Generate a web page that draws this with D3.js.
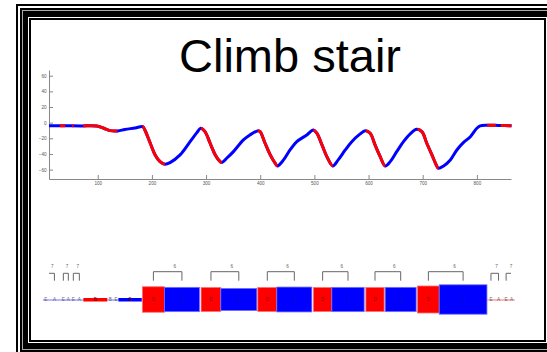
<!DOCTYPE html>
<html>
<head>
<meta charset="utf-8">
<script src="https://d3js.org/d3.v7.min.js"></script>
<style>
  body { margin: 0; background: #fff; }
  svg { display: block; }
  .axis text { font-family: "Liberation Sans", Arial, sans-serif; font-size: 4.6px; fill: #555; }
  .axis path, .axis line { stroke: #888; stroke-width: 1; }
</style>
</head>
<body>
<div id="chart"></div>
<script>
// signal keypoints (frame, angle)
const sigFrame = [10, 40, 70, 98, 110, 123, 137, 150, 169, 183,
  187, 197, 206, 215, 224, 233.5, 252, 270.5, 283, 290,
  298, 307.5, 317, 326, 329, 338, 350.5, 369, 381, 396.5,
  400, 409, 418.5, 427.5, 431.8, 443, 455, 467.5, 486, 498,
  504.5, 514, 523, 534, 544, 557, 569, 584.5, 593.7,
  603, 612, 621.5, 630.7, 640, 652, 664.5, 677, 689,
  698.5, 707.5, 717, 725, 729, 738.5, 751, 763, 775, 788, 800, 806, 818.5,
  840, 864]
const sigValue = [-3.8, -4, -4.2, -4.3, -6.8, -10.2, -10.6, -8.7, -6.8, -5.1,
  -9.3, -26.3, -41.2, -49.8, -53.1, -51, -41.2, -24.3, -12.8, -7.2,
  -11.5, -26.3, -41.2, -49.8, -51, -45.5, -37, -22, -15.7, -10.2,
  -11.5, -26.3, -41.2, -51.8, -55.3, -47.6, -34.9, -24.3, -15.7, -9.3,
  -13.5, -28.5, -43.4, -55.3, -47.6, -34.9, -24.3, -14.4, -10.2,
  -13.5, -28.5, -43.4, -55.3, -49.8, -37, -24.3, -14.4, -8.5,
  -11.5, -26.3, -41.2, -54, -58.2, -55.3, -47.6, -34.9, -25.5, -17.9, -7.2, -4.2, -3.3,
  -3.6, -4]

// frame ranges where the curve is drawn red (descending)
const downSpans = [[30, 40], [53, 56], [73, 136], [182.4, 224], [290.8, 329], [395.5, 431.8],
  [498.2, 534], [595, 630.7], [690.4, 729], [819, 835], [844, 870]]

const yTicks = [-60, -40, -20, 0, 20, 40, 60]
const xTicks = [100, 200, 300, 400, 500, 600, 700, 800]

// segmentation boxes
const boxKind = ["D", "C", "D", "C", "D", "C", "D", "C", "D", "C", "D", "C"]
const boxStart = [182.4, 223.1, 290.8, 327.2, 395.5, 430.6, 498.2, 532.2, 595.0, 630.7, 690.4, 730.5]
const boxEnd = [223.1, 287.7, 327.2, 393.7, 430.6, 495.3, 532.2, 591.9, 628.8, 687.9, 730.5, 818.6]
const boxWeight = [0.85, 0.81, 0.8, 0.74, 0.8, 0.83, 0.8, 0.81, 0.8, 0.81, 0.9, 0.98]

// thin bars (B segments) and hairline segments
const barLabel = ["B", "B"]
const barStart = [73.4, 138.1]
const barEnd = [117.7, 181.3]
const barDir = ["down", "up"]
const thinStart = [-1, 117.7, 819]
const thinEnd = [73.4, 138.1, 870]
const thinDir = ["up", "up", "down"]

// small phase letters
const markLetter = ["E", "A", "E", "A", "E", "A", "B", "E", "E", "A", "E", "A"]
const markFrame = [4, 20, 36.5, 45.7, 54.9, 66, 123, 134, 826, 840, 854, 864]

// repetition brackets
const repStart = [4, 36.5, 54.9, 826, 854]
const repEnd = [20, 45.7, 66, 840, 866]
const repLabel = ["7", "7", "7", "7", "7"]
const pairLabel = ["6", "6", "6", "6", "6", "6"]

const W = 547, H = 352
const red = "#ff0000", blue = "#0000ff"
const dirColor = d => d === "down" ? red : blue

const svg = d3.select("#chart").append("svg")
  .attr("width", W)
  .attr("height", H)

svg.append("rect").attr("width", W).attr("height", H).attr("fill", "#fff")

// double border frame
const frame = { l: 16, t: 4, r: 559, b: 356 }
const layers = [
  [0, 0, "#000"], [2, 2, "#fff"], [4, 4, "#000"], [6, 6, "#aaa"],
  [7, 7, "#000"], [12, 13, "#fff"], [13, 14, "#000"], [15, 16, "#fff"]
]
layers.forEach(([ix, iy, c]) => {
  svg.append("rect")
    .attr("x", frame.l + ix)
    .attr("y", frame.t + iy)
    .attr("width", frame.r - frame.l - 2 * ix)
    .attr("height", frame.b - frame.t - 2 * iy)
    .attr("fill", c)
})

// title
svg.append("text")
  .attr("x", 290)
  .attr("y", 72)
  .attr("text-anchor", "middle")
  .style("font-family", "'Liberation Sans', Arial, sans-serif")
  .style("font-size", "47px")
  .attr("fill", "#000")
  .text("Climb stair")

// scales
const x = d3.scaleLinear().domain([10, 863]).range([49, 511])
const y = d3.scaleLinear().domain([-72, 67.3]).range([179, 70])

// axes
svg.append("g")
  .attr("class", "axis")
  .attr("transform", "translate(49,0)")
  .call(d3.axisLeft(y).tickValues(yTicks).tickSizeInner(-4).tickSizeOuter(0).tickPadding(2.5))

svg.append("g")
  .attr("class", "axis")
  .attr("transform", "translate(0,179)")
  .call(d3.axisBottom(x).tickValues(xTicks).tickSizeInner(-4).tickSizeOuter(0).tickPadding(2.5))

// signal
const pts = sigFrame.map((f, i) => [f, sigValue[i]])
const line = d3.line()
  .x(d => x(d[0]))
  .y(d => y(d[1]))
  .curve(d3.curveCatmullRom.alpha(0.5))

const defs = svg.append("defs")
const clip = defs.append("clipPath").attr("id", "downClip")
downSpans.forEach(s => {
  clip.append("rect")
    .attr("x", x(s[0]))
    .attr("y", 0)
    .attr("width", x(s[1]) - x(s[0]))
    .attr("height", 200)
})

svg.append("path")
  .datum(pts)
  .attr("d", line)
  .attr("fill", "none")
  .attr("stroke", blue)
  .attr("stroke-width", 3)
  .attr("stroke-linejoin", "round")

svg.append("path")
  .datum(pts)
  .attr("d", line)
  .attr("fill", "none")
  .attr("stroke", red)
  .attr("stroke-width", 3)
  .attr("stroke-linejoin", "round")
  .attr("clip-path", "url(#downClip)")

// segmentation strip
const midY = 299.5
const hScale = d3.scaleLinear().domain([0, 1]).range([0, 30])
const small = { "font-family": "'Liberation Sans', Arial, sans-serif", "font-size": "4.6px" }

thinStart.forEach((s, i) => {
  svg.append("line")
    .attr("x1", x(s)).attr("x2", x(thinEnd[i]))
    .attr("y1", midY + 0.5).attr("y2", midY + 0.5)
    .attr("stroke", dirColor(thinDir[i]))
    .attr("stroke-opacity", 0.55)
    .attr("stroke-width", 1)
})

barStart.forEach((s, i) => {
  svg.append("rect")
    .attr("x", x(s))
    .attr("y", midY - 1.5)
    .attr("width", x(barEnd[i]) - x(s))
    .attr("height", 3.5)
    .attr("fill", dirColor(barDir[i]))
  svg.append("text")
    .attr("x", x((s + barEnd[i]) / 2))
    .attr("y", midY + 1.6)
    .attr("text-anchor", "middle")
    .style("font-family", small["font-family"])
    .style("font-size", small["font-size"])
    .attr("fill", "#600")
    .text(barLabel[i])
})

markFrame.forEach((f, i) => {
  svg.append("text")
    .attr("x", x(f))
    .attr("y", midY + 1.6)
    .attr("text-anchor", "middle")
    .style("font-family", small["font-family"])
    .style("font-size", small["font-size"])
    .attr("fill", "#667")
    .text(markLetter[i])
})

boxStart.forEach((s, i) => {
  const h = hScale(boxWeight[i])
  const c = boxKind[i] === "D" ? red : blue
  svg.append("rect")
    .attr("x", x(s))
    .attr("y", midY - h / 2)
    .attr("width", x(boxEnd[i]) - x(s))
    .attr("height", h)
    .attr("fill", c)
    .attr("stroke", boxKind[i] === "D" ? "#ff7070" : "#7070ff")
    .attr("stroke-width", 0.8)
  svg.append("text")
    .attr("x", x((s + boxEnd[i]) / 2))
    .attr("y", midY + 1.6)
    .attr("text-anchor", "middle")
    .style("font-family", small["font-family"])
    .style("font-size", small["font-size"])
    .attr("fill", "#222")
    .attr("fill-opacity", 0.6)
    .text(boxKind[i])
})

// brackets
const bclip = defs.append("clipPath").attr("id", "bracketClip")
bclip.append("rect").attr("x", 49).attr("y", 250).attr("width", 511 - 49).attr("height", 40)

function bracket(x0, x1, top, label) {
  svg.append("path")
    .attr("d", `M${x0},280.7V${top}H${x1}V280.7`)
    .attr("fill", "none")
    .attr("stroke", "#666")
    .attr("stroke-width", 1)
    .attr("clip-path", "url(#bracketClip)")
  svg.append("text")
    .attr("x", x0 + 0.75 * (x1 - x0))
    .attr("y", 268.3)
    .attr("text-anchor", "middle")
    .style("font-family", small["font-family"])
    .style("font-size", small["font-size"])
    .attr("fill", "#666")
    .text(label)
}

repStart.forEach((s, i) => bracket(x(s), x(repEnd[i]), 273.3, repLabel[i]))

pairLabel.forEach((lab, k) => {
  const d = 2 * k, c = 2 * k + 1
  const x0 = x((boxStart[d] + boxEnd[d]) / 2)
  const x1 = x((boxStart[c] + boxEnd[c]) / 2)
  bracket(x0, x1, 271.7, lab)
})
</script>
</body>
</html>
